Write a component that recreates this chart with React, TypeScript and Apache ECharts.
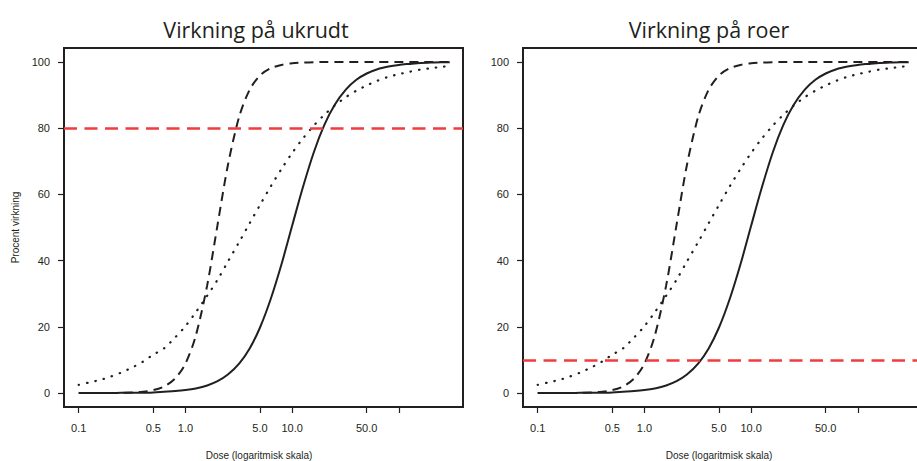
import React, { useEffect, useRef } from "react";
import * as echarts from "echarts";

// Dose values (logarithmic x axis)
const doses = [0.1, 0.125, 0.16, 0.2, 0.25, 0.32, 0.4, 0.5, 0.63, 0.8, 1, 1.25, 1.6, 2, 2.5, 3.2, 4, 5, 6.3, 8, 10, 12.5, 16, 20, 25, 32, 40, 50, 63, 80, 100, 125, 160, 200, 250, 300];
// Percent effect
const solidPct = [0, 0, 0, 0, 0.1, 0.1, 0.1, 0.2, 0.4, 0.6, 0.9, 1.4, 2.3, 3.6, 5.6, 9.0, 13.5, 19.8, 28.4, 39.2, 50.5, 61.7, 72.8, 80.9, 87.0, 91.7, 94.6, 96.5, 97.8, 98.6, 99.1, 99.4, 99.7, 99.8, 99.9, 99.9];
const dashedPct = [0, 0, 0, 0, 0.1, 0.2, 0.4, 0.9, 2.0, 4.4, 8.9, 17.3, 32.6, 50.8, 68.8, 83.6, 91.6, 95.9, 98.1, 99.1, 99.6, 99.8, 99.9, 100, 100, 100, 100, 100, 100, 100, 100, 100, 100, 100, 100, 100];
const dottedPct = [2.5, 3.2, 4.0, 5.0, 6.2, 7.8, 9.5, 11.6, 13.5, 16.8, 20.2, 24.4, 29.4, 34.2, 39.7, 45.7, 51.3, 56.8, 62.4, 67.8, 72.5, 76.7, 80.8, 84.0, 86.8, 89.4, 91.3, 92.9, 94.3, 95.5, 96.3, 97.0, 97.7, 98.1, 98.5, 98.8];

const xTickDoses = [0.1, 0.5, 1, 5, 10, 50, 100];
const xTickLabels = ["0.1", "0.5", "1.0", "5.0", "10.0", "50.0", ""];
const yTicks = [0, 20, 40, 60, 80, 100];
const panelTitles = ["Virkning på ukrudt", "Virkning på roer"];
const refLevels = [80, 10];
const xAxisTitle = "Dose (logaritmisk skala)";
const yAxisTitle = "Procent virkning";

const INK = "#231f20";
const RED = "#ee3d3f";

export default function App() {
  const ref = useRef<HTMLDivElement>(null);
  useEffect(() => {
    if (!ref.current) return;
    const chart = echarts.init(ref.current, null, { renderer: "svg" });
    const pxPerDecade = 106.7;
    const xMinLog = -1.138;
    const tickLogs = xTickDoses.map((d) => Math.log10(d));
    const fmtX = (v: number) => {
      const i = tickLogs.findIndex((t) => Math.abs(t - v) < 1e-6);
      return i >= 0 ? xTickLabels[i] : "";
    };
    // right panel is cut off by the page edge in the original
    const grids = [
      { left: 64, top: 48, width: 399, height: 359 },
      { left: 523, top: 48, width: 600, height: 359 },
    ];
    const titleCenters = [256, 709];
    const xNameCenters = [259, 719];
    const mk = (vals: number[]) => doses.map((d, i) => [Math.log10(d), vals[i]]);
    const series: any[] = [];
    grids.forEach((_, p) => {
      const common = {
        type: "line",
        xAxisIndex: p,
        yAxisIndex: p,
        showSymbol: false,
        symbol: "none",
        smooth: 0.3,
        silent: true,
      };
      series.push({ ...common, data: mk(solidPct), lineStyle: { color: INK, width: 2 }, z: 3 });
      series.push({ ...common, data: mk(dashedPct), lineStyle: { color: INK, width: 2, type: [9, 6] }, z: 3 });
      series.push({
        ...common,
        data: mk(dottedPct),
        lineStyle: { color: INK, width: 2.2, type: [0.5, 8], cap: "round" },
        z: 3,
        markLine: {
          silent: true,
          symbol: ["none", "none"],
          label: { show: false },
          lineStyle: { color: RED, width: 2.5, type: [13, 7.5], opacity: 1 },
          data: [{ yAxis: refLevels[p] }],
          z: 4,
        },
      });
    });
    const axisText = { fontFamily: "Liberation Sans", fontSize: 11, color: INK };
    const rg = grids[1];
    chart.setOption({
      animation: false,
      grid: grids.map((g, p) => ({
        ...g,
        show: p === 0,
        borderColor: INK,
        borderWidth: 2,
        backgroundColor: "transparent",
        containLabel: false,
        outerBoundsMode: "none",
      })),
      xAxis: grids.map((g, p) => ({
        type: "value",
        gridIndex: p,
        position: "bottom",
        min: xMinLog,
        max: xMinLog + g.width / pxPerDecade,
        axisLine: { show: false, onZero: false },
        splitLine: { show: false },
        axisTick: { show: true, length: 6, lineStyle: { color: INK, width: 1.2 }, customValues: tickLogs },
        axisLabel: { ...axisText, margin: 15, customValues: tickLogs, formatter: fmtX },
      })),
      yAxis: grids.map((_, p) => ({
        type: "value",
        gridIndex: p,
        position: "left",
        min: -4.2,
        max: 104.2,
        axisLine: { show: false, onZero: false },
        splitLine: { show: false },
        axisTick: { show: true, length: 6, lineStyle: { color: INK, width: 1.2 }, customValues: yTicks },
        axisLabel: { ...axisText, margin: 14, customValues: yTicks },
        name: p === 0 ? yAxisTitle : "",
        nameLocation: "middle",
        nameGap: 44,
        nameTextStyle: { fontFamily: "Liberation Sans", fontSize: 10, color: INK },
      })),
      graphic: [
        {
          type: "polyline",
          silent: true,
          shape: {
            points: [
              [rg.left + rg.width, rg.top],
              [rg.left, rg.top],
              [rg.left, rg.top + rg.height],
              [rg.left + rg.width, rg.top + rg.height],
            ],
          },
          style: { stroke: INK, lineWidth: 2, fill: null },
        },
        ...panelTitles.map((t, p) => ({
          type: "text",
          x: titleCenters[p],
          y: 29,
          style: {
            text: t,
            fontFamily: "Open Sans",
            fontSize: 21.5,
            fill: INK,
            textAlign: "center",
            textVerticalAlign: "middle",
          },
        })),
        ...xNameCenters.map((cx) => ({
          type: "text",
          x: cx,
          y: 455,
          style: {
            text: xAxisTitle,
            fontFamily: "Liberation Sans",
            fontSize: 10,
            fill: INK,
            textAlign: "center",
            textVerticalAlign: "middle",
          },
        })),
      ],
      series,
    });
    return () => chart.dispose();
  }, []);
  return <div ref={ref} style={{ position: "absolute", left: 0, top: 0, width: 917, height: 461 }} />;
}
